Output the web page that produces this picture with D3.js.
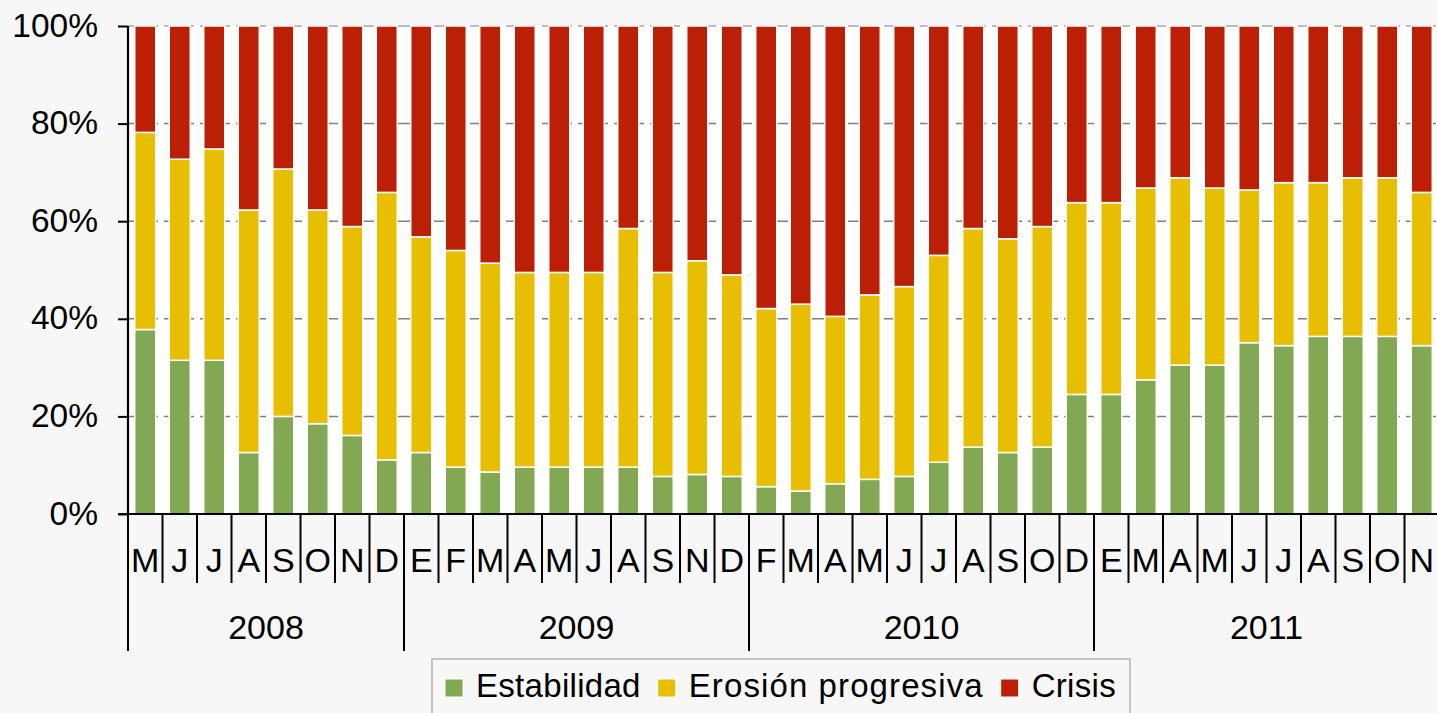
<!DOCTYPE html>
<html><head><meta charset="utf-8">
<script src="https://cdn.jsdelivr.net/npm/d3@7"></script>
<style>
html,body{margin:0;padding:0;background:#f7f7f7;}
svg{display:block;font-family:"Liberation Sans",Arial,sans-serif;}
</style>
</head><body>
<svg id="chart" width="1437" height="713"></svg>
<script>
// ---- data ----
const months = ["M","J","J","A","S","O","N","D",
  "E","F","M","A","M","J","A","S","N","D",
  "F","M","A","M","J","J","A","S","O","D",
  "E","M","A","M","J","J","A","S","O","N"];
const years = ["2008","2009","2010","2011"];
const monthsPerYear = [8,10,10,10];
const estabilidad = [37.8,31.5,31.5,12.6,20.0,18.5,16.1,11.1,
  12.6,9.6,8.6,9.6,9.6,9.6,9.6,7.7,8.1,7.7,
  5.6,4.7,6.2,7.1,7.7,10.6,13.7,12.6,13.7,24.5,
  24.5,27.5,30.5,30.5,35.1,34.5,36.4,36.4,36.4,34.5];
const erosion = [40.4,41.2,43.3,49.7,50.7,43.8,42.8,54.8,
  44.2,44.4,42.8,39.9,39.9,39.9,48.9,41.8,43.8,41.3,
  36.5,38.3,34.3,37.8,38.9,42.4,44.8,43.8,45.2,39.3,
  39.3,39.3,38.4,36.3,31.3,33.4,31.5,32.5,32.5,31.4];
const crisis = [21.8,27.3,25.2,37.7,29.3,37.7,41.1,34.1,
  43.2,46.0,48.6,50.5,50.5,50.5,41.5,50.5,48.1,51.0,
  57.9,57.0,59.5,55.1,53.4,47.0,41.5,43.6,41.1,36.2,
  36.2,33.2,31.1,33.2,33.6,32.1,32.1,31.1,31.1,34.1];
const seriesNames = ["Estabilidad","Erosión progresiva","Crisis"];
const seriesColors = ["#83a853","#e8be00","#bb2007"];
const yTicks = [0,20,40,60,80,100];

// ---- layout ----
const svg = d3.select("#chart");
const L = 128, R = 1439, T = 26, B = 514;
const rows = months.map((m,i)=>({i, m, [seriesNames[0]]:estabilidad[i], [seriesNames[1]]:erosion[i], [seriesNames[2]]:crisis[i]}));

const x = d3.scaleBand().domain(d3.range(months.length)).range([L,R]).paddingInner(0.39).paddingOuter(0.195);
const y = d3.scaleLinear().domain([0,100]).range([B,T]);

// plot background
svg.append("rect").attr("x",L).attr("y",T).attr("width",1437-L).attr("height",B-T).attr("fill","#ffffff");

// gridlines
svg.append("g").selectAll("line").data(yTicks.filter(d=>d>0)).join("line")
  .attr("x1",L).attr("x2",1437).attr("y1",d=>y(d)).attr("y2",d=>y(d))
  .attr("stroke",d=>d===100?"#a8a8a8":"#808080").attr("stroke-width",1.5)
  .attr("stroke-dasharray","12,6");

// stacked bars
const stack = d3.stack().keys(seriesNames)(rows);
svg.append("g").selectAll("g").data(stack).join("g")
  .attr("fill",(d,k)=>seriesColors[k])
  .selectAll("rect").data(d=>d).join("rect")
  .attr("x",d=>x(d.data.i)).attr("width",x.bandwidth())
  .attr("y",d=>y(d[1])).attr("height",d=>y(d[0])-y(d[1]))
  .attr("stroke","#ffffff").attr("stroke-width",1.5);

// y axis
const yAxis = svg.append("g").attr("transform",`translate(${L},0)`)
  .call(d3.axisLeft(y).tickValues(yTicks).tickFormat(d=>d+"%").tickSize(10).tickPadding(20));
yAxis.select(".domain").remove();
yAxis.selectAll(".tick line").attr("stroke","#000").attr("stroke-width",2);
yAxis.selectAll(".tick text").attr("font-size",33.5).attr("fill","#000")
  .attr("font-family","'Liberation Sans',Arial,sans-serif").attr("dy","0.3em");
svg.append("line").attr("x1",L).attr("x2",L).attr("y1",T).attr("y2",B)
  .attr("stroke","#000").attr("stroke-width",2.2);

// x axis line
svg.append("line").attr("x1",L-10).attr("x2",1437).attr("y1",B).attr("y2",B)
  .attr("stroke","#000").attr("stroke-width",2.2);

// month / year separators
const yearStarts = [];
monthsPerYear.reduce((acc,n)=>{yearStarts.push(acc); return acc+n;},0);
const boundary = i => x.range()[0] + i*x.step();
svg.append("g").selectAll("line").data(d3.range(months.length)).join("line")
  .attr("x1",i=>boundary(i)).attr("x2",i=>boundary(i))
  .attr("y1",B).attr("y2",i=>yearStarts.includes(i)?651:583)
  .attr("stroke","#000").attr("stroke-width",2);

// month labels
svg.append("g").selectAll("text").data(months).join("text")
  .attr("x",(d,i)=>x(i)+x.bandwidth()/2).attr("y",572)
  .attr("text-anchor","middle").attr("font-size",34).attr("fill","#000")
  .text(d=>d);

// year labels
svg.append("g").selectAll("text").data(years).join("text")
  .attr("x",(d,k)=>(boundary(yearStarts[k]) + boundary(yearStarts[k]+monthsPerYear[k]))/2)
  .attr("y",639).attr("text-anchor","middle").attr("font-size",34).attr("fill","#000")
  .text(d=>d);

// legend
svg.append("rect").attr("x",432).attr("y",659).attr("width",698).attr("height",70)
  .attr("fill","#f7f7f7").attr("stroke","#c4c4c4").attr("stroke-width",2);
const lg = svg.append("g");
let lx = 445;
seriesNames.forEach((name,k)=>{
  lg.append("rect").attr("x",lx).attr("y",679).attr("width",18).attr("height",18)
    .attr("fill",seriesColors[k]).attr("stroke","#fff").attr("stroke-width",1);
  const t = lg.append("text").attr("x",lx+31).attr("y",697).attr("font-size",33)
    .attr("fill","#000").attr("letter-spacing", k===1?"1.1px":"0.3px").text(name);
  lx = lx + 31 + t.node().getComputedTextLength() + 17;
});
</script>
</body></html>
